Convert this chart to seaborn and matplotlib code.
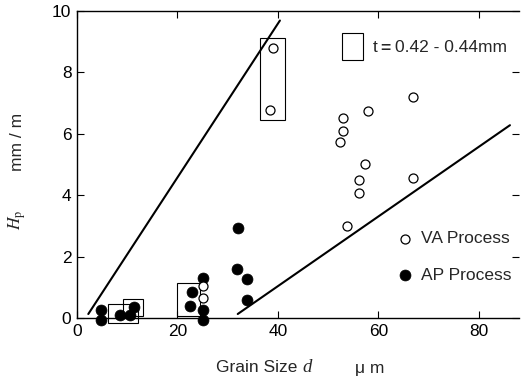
import matplotlib
matplotlib.use("Agg")
import matplotlib.pyplot as plt
import seaborn as sns
import numpy as np
import pandas as pd
from matplotlib.patches import Rectangle

sns.set_style("ticks")
plt.rcParams['font.family'] = ['Liberation Sans', 'DejaVu Sans']

# --- data ---
va_x = [39.0, 38.4, 66.8, 58.0, 52.9, 52.9, 52.3, 57.4, 56.2, 56.2, 66.9, 53.7, 25.0, 25.0]
va_y = [8.78, 6.76, 7.20, 6.73, 6.51, 6.09, 5.73, 5.03, 4.49, 4.08, 4.56, 3.00, 1.04, 0.64]

ap_x = [4.8, 4.8, 8.5, 10.5, 11.3, 25.1, 25.1, 25.1, 22.9, 22.5, 31.9, 33.9, 33.9, 32.0]
ap_y = [0.25, -0.08, 0.10, 0.10, 0.37, 1.29, 0.26, -0.08, 0.86, 0.39, 1.58, 1.26, 0.59, 2.94]

line1_x = [2.25, 40.4]
line1_y = [0.13, 9.69]
line2_x = [32.0, 86.2]
line2_y = [0.13, 6.28]

# rectangles: (x0, y0, x1, y1) for t = 0.42 - 0.44 mm samples
rect_x0 = [36.4, 6.1, 9.1, 20.0]
rect_y0 = [6.46, -0.15, 0.07, 0.07]
rect_x1 = [41.4, 12.1, 13.1, 24.5]
rect_y1 = [9.13, 0.45, 0.62, 1.13]

x_ticks = [0, 20, 40, 60, 80]
y_ticks = [0, 2, 4, 6, 8, 10]

FS = 12.5

fig = plt.figure(figsize=(5.21, 3.81), dpi=100)
ax = fig.add_axes([77/521, 1-318/381, 442/521, 307/381])

for x0, y0, x1, y1 in zip(rect_x0, rect_y0, rect_x1, rect_y1):
    ax.add_patch(Rectangle((x0, y0), x1-x0, y1-y0, fill=False, edgecolor='black',
                           linewidth=0.8, clip_on=False, zorder=2))

sns.lineplot(x=line1_x, y=line1_y, ax=ax, color='black', linewidth=1.5, zorder=2)
sns.lineplot(x=line2_x, y=line2_y, ax=ax, color='black', linewidth=1.5, zorder=2)

sns.scatterplot(x=va_x, y=va_y, ax=ax, marker='o', color='white', edgecolor='black',
                s=42, linewidth=0.9, label='VA Process', clip_on=False, zorder=4)
sns.scatterplot(x=ap_x, y=ap_y, ax=ax, marker='o', color='black', edgecolor='black',
                s=62, linewidth=0.5, label='AP Process', clip_on=False, zorder=3)

ax.set_xlim(0, 88)
ax.set_ylim(0, 10)
ax.set_xticks(x_ticks)
ax.set_yticks(y_ticks)
ax.tick_params(direction='in', length=5, width=0.8, top=True, right=True,
               labelsize=FS, colors='black', pad=4)
for s in ['left', 'bottom', 'top']:
    ax.spines[s].set_linewidth(1.0)
    ax.spines[s].set_color('black')
ax.spines['right'].set_visible(False)

leg = ax.legend(loc='upper left', bbox_to_anchor=((398-77)/442, (318-231)/307),
                frameon=False, fontsize=FS, handlelength=0.8, handletextpad=0.5,
                labelspacing=1.25, borderpad=0, borderaxespad=0)

# legend box for rectangles
ax.add_patch(Rectangle((341.7/521, 1-60/381), 21.6/521, 26.7/381, transform=fig.transFigure,
                       fill=False, edgecolor='black', linewidth=0.8, clip_on=False))
fig.text(373/521, 1-48/381, 't', fontsize=FS, va='center', ha='left')
fig.text(380/521, 1-48/381, '=', fontsize=FS, va='center', ha='left', fontweight='bold')
fig.text(395/521, 1-48/381, '0.42 - 0.44mm', fontsize=FS, va='center', ha='left')

# axis labels
fig.text(216/521, 1-368/381, 'Grain Size', fontsize=FS, va='center', ha='left')
fig.text(302/521, 1-368/381, 'd', fontsize=FS+1, va='center', ha='left',
         family='Liberation Serif', style='italic')
fig.text(355/521, 1-368/381, 'μ m', fontsize=FS, va='center', ha='left')

fig.text(17/521, 1-142/381, 'mm / m', fontsize=FS, va='center', ha='center', rotation=90)
fig.text(17/521, 1-220/381, r'$H_{\rm p}$', fontsize=FS, va='center', ha='center',
         rotation=90, family='Liberation Serif', math_fontfamily='stix')

fig.savefig('out.png', dpi=100)
